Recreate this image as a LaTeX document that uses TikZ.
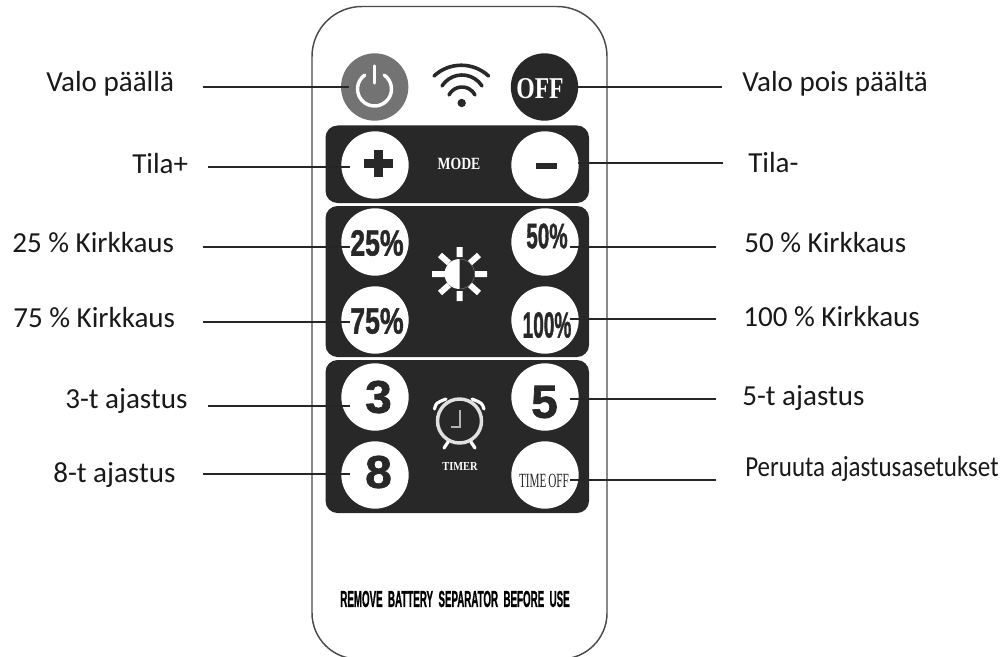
\documentclass[tikz,border=0pt]{standalone}
\usepackage{fontspec}
\usepackage{graphicx}
\setmainfont{Carlito}
\newfontfamily\keysans[BoldFeatures={FakeBold=1.5}]{Liberation Sans}
\newfontfamily\keyserif{Liberation Serif}
\newcommand{\fitkey}[3]{\resizebox{#1pt}{#2pt}{#3}}
\definecolor{panelgray}{HTML}{282828}
\definecolor{powergray}{HTML}{737373}
\definecolor{linegray}{HTML}{4A4A4A}
\tikzset{
    panel/.style={fill=panelgray, rounded corners=9pt},
    keybutton/.style={circle, fill=white, minimum size=50.5pt, inner sep=0pt},
    keytext/.style={inner sep=0pt, text=panelgray},
    darktext/.style={inner sep=0pt, text=white},
    caption/.style={anchor=base west, inner sep=0pt, font=\fontsize{21.8pt}{24pt}\selectfont, text=black!90},
    leader/.style={draw=black!85, line width=1.1pt, shorten >=19pt},
    icon/.style={draw=white, line cap=round},
    wifiarc/.style={draw=panelgray, line width=2.7pt, line cap=round}
}
\begin{document}
\begin{tikzpicture}[x=0.75pt, y=-0.75pt]
        \useasboundingbox (0,0) rectangle (1005,656);
        \clip (0,0) rectangle (1005,656);

        \draw[linegray, line width=1.1pt, rounded corners=37.5pt] (312,330) -- (312,6.5) -- (607,6.5) -- (607,330);
        \draw[linegray, line width=1.1pt, rounded corners=34.5pt] (312,330) -- (312,659) -- (607,659) -- (607,330);

        \fill[panel] (325.5,125.5) rectangle (589,203);
        \fill[panel] (325.5,206) rectangle (589,357);
        \fill[panel] (325.5,360) rectangle (589,513);

        \node[keybutton, fill=powergray] (btnPower) at (374.7,87) {};
        \node[keybutton, fill=panelgray] (btnOff) at (544.5,87) {};
        \node[keybutton] (btnPlus) at (375,165) {};
        \node[keybutton] (btnMinus) at (545,165) {};
        \node[keybutton] (btnTwentyFive) at (375,242) {};
        \node[keybutton] (btnFifty) at (545,242) {};
        \node[keybutton] (btnSeventyFive) at (375,320) {};
        \node[keybutton] (btnHundred) at (545,320) {};
        \node[keybutton] (btnThree) at (375,397) {};
        \node[keybutton] (btnFive) at (545,397) {};
        \node[keybutton] (btnEight) at (375,475) {};
        \node[keybutton] (btnTimeOff) at (545,475) {};

        \node[darktext] (txtOff) at (540,88.5) {\fitkey{35.5}{15}{\keyserif\bfseries OFF}};
        \node[darktext] (txtMode) at (459,164) {\fitkey{32}{8.5}{\keyserif\bfseries MODE}};
        \node[darktext] (txtTimer) at (460,466) {\fitkey{26.5}{6}{\keyserif\bfseries TIMER}};
        \node[keytext] (txtTwentyFive) at (377,243) {\fitkey{40}{19}{\keysans\bfseries 25\%}};
        \node[keytext] (txtFifty) at (547,236) {\fitkey{31}{18.5}{\keysans\bfseries 50\%}};
        \node[keytext] (txtSeventyFive) at (377,321) {\fitkey{40}{19}{\keysans\bfseries 75\%}};
        \node[keytext] (txtHundred) at (547,325) {\fitkey{36.5}{19}{\keysans\bfseries 100\%}};
        \node[keytext] (txtThree) at (378.5,397) {\fitkey{20}{24}{\keysans\bfseries 3}};
        \node[keytext] (txtFive) at (544.5,402) {\fitkey{20}{24}{\keysans\bfseries 5}};
        \node[keytext] (txtEight) at (378.5,472) {\fitkey{20}{24}{\keysans\bfseries 8}};
        \node[keytext] (txtTimeOff) at (544,481) {\fitkey{37.5}{10}{\keyserif TIME\,OFF}};
        \node[keytext, text=black] (txtBattery) at (455,599) {\fitkey{172}{12}{\keysans\bfseries REMOVE\ \ BATTERY\ \ SEPARATOR\ \ BEFORE\ \ USE}};

        \fill[panelgray] (364.3,159.3) rectangle (392.7,167.7);
        \fill[panelgray] (374,150) rectangle (382.7,176.7);
        \fill[panelgray] (536,162.7) rectangle (557.3,169);

        \draw[icon, line width=2.6pt] (374.5,89) ++(-55:17) arc[start angle=-55, delta angle=290, radius=17];
        \draw[icon, line width=2.6pt] (374.5,66) -- (374.5,83);

        \draw[wifiarc] (434,76) arc[start angle=-133, delta angle=86, radius=40];
        \draw[wifiarc] (442,86) arc[start angle=-147.6, delta angle=115.2, radius=23.7];
        \draw[wifiarc] (449,95) arc[start angle=-153, delta angle=126, radius=14.6];
        \fill[panelgray] (461.7,103) circle[radius=4.2];

        \fill[white] (459.5,259) arc[start angle=-90, delta angle=-180, radius=15] -- cycle;
        \draw[powergray, line width=0.4pt] (459.5,259) arc[start angle=-90, delta angle=180, radius=15];
        \draw[white, line width=4.5pt] (459.5,247) -- (459.5,257) (459.5,291) -- (459.5,301)
            (432,274) -- (445,274) (475,274) -- (487,274)
            (440,255) -- (449,263) (479,255) -- (470,263)
            (440,293) -- (449,285) (479,293) -- (470,285);

        \draw[white!88!black, line width=2.6pt] (459.5,421) circle[radius=22];
        \draw[white!70!black, line width=1.3pt] (460,410) -- (460,427) -- (451,427);
        \draw[icon, line width=2.4pt] (434.5,409) .. controls (436,403) .. (446,399);
        \draw[icon, line width=2.4pt] (484,409) .. controls (482,403) .. (472,399);
        \draw[icon, line width=2.4pt] (444,448) -- (448,442);
        \draw[icon, line width=2.4pt] (475,448) -- (471,442);

        \node[caption] (lblPower) at (46,92) {Valo päällä};
        \node[caption] (lblPlus) at (132,173) {Tila+};
        \node[caption] (lblTwentyFive) at (12,252) {25 \% Kirkkaus};
        \node[caption] (lblSeventyFive) at (13,327) {75 \% Kirkkaus};
        \node[caption] (lblThree) at (65,408) {3-t ajastus};
        \node[caption] (lblEight) at (53,482) {8-t ajastus};
        \node[caption] (lblOff) at (742,92) {Valo pois päältä};
        \node[caption] (lblMinus) at (748,172) {Tila-};
        \node[caption] (lblFifty) at (744,252) {50 \% Kirkkaus};
        \node[caption] (lblHundred) at (743,326) {100 \% Kirkkaus};
        \node[caption] (lblFive) at (742,405) {5-t ajastus};
        \node[caption] (lblTimeOff) at (745,476) {\scalebox{.86}[1]{Peruuta ajastusasetukset}};

        \coordinate (startPower) at (203,87);
        \coordinate (startPlus) at (208,167);
        \coordinate (startTwentyFive) at (203,247);
        \coordinate (startSeventyFive) at (203,322);
        \coordinate (startThree) at (208,406);
        \coordinate (startEight) at (203,474);
        \coordinate (startOff) at (722,87);
        \coordinate (startMinus) at (723,163);
        \coordinate (startFifty) at (715.5,247);
        \coordinate (startHundred) at (715.5,319);
        \coordinate (startFive) at (715.5,399);
        \coordinate (startTimeOff) at (715.5,480);

        \draw[leader] (startPower) -- (startPower -| btnPower);
        \draw[leader] (startPlus) -- (startPlus -| btnPlus);
        \draw[leader] (startTwentyFive) -- (startTwentyFive -| btnTwentyFive);
        \draw[leader] (startSeventyFive) -- (startSeventyFive -| btnSeventyFive);
        \draw[leader] (startThree) -- (startThree -| btnThree);
        \draw[leader] (startEight) -- (startEight -| btnEight);
        \draw[leader, shorten >=24.5pt] (startOff) -- (startOff -| btnOff);
        \draw[leader, shorten >=24.5pt] (startMinus) -- (startMinus -| btnMinus);
        \draw[leader] (startFifty) -- (startFifty -| btnFifty);
        \draw[leader] (startHundred) -- (startHundred -| btnHundred);
        \draw[leader] (startFive) -- (startFive -| btnFive);
        \draw[leader] (startTimeOff) -- (startTimeOff -| btnTimeOff);
    \end{tikzpicture}
\end{document}
